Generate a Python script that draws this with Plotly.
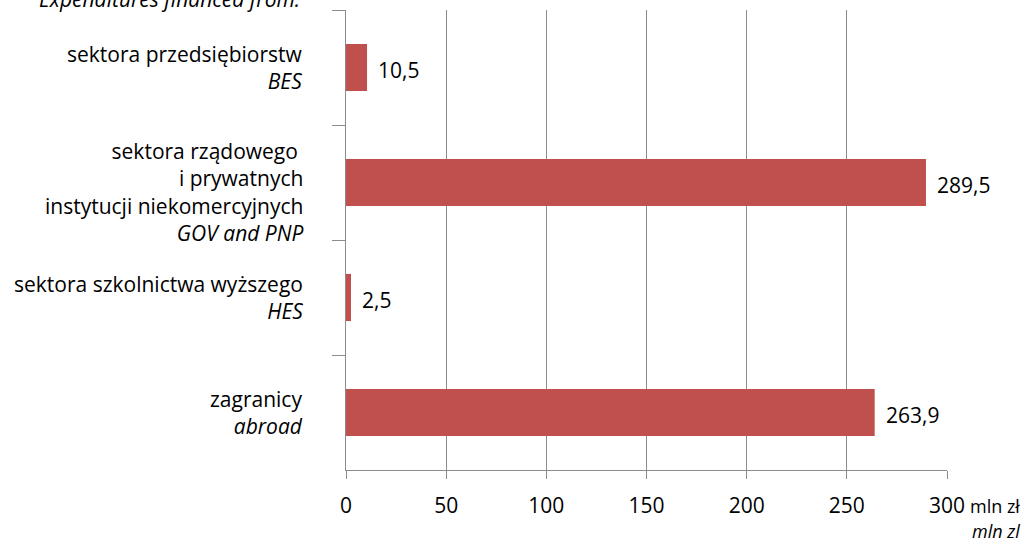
import plotly.graph_objects as go

# Sources of R&D expenditure financing (mln zł)
sources = ["BES", "GOV", "HES", "ABROAD"]
source_labels = [
    "sektora przedsiębiorstw<br><i>BES</i>",
    "sektora rządowego <br>i prywatnych<br>instytucji niekomercyjnych<br><i>GOV and PNP</i>",
    "sektora szkolnictwa wyższego<br><i>HES</i>",
    "zagranicy<br><i>abroad</i>",
]
values = [10.5, 289.5, 2.5, 263.9]
value_text = ["10,5", "289,5", "2,5", "263,9"]

x_ticks = [0, 50, 100, 150, 200, 250, 300]
x_tick_labels = ["0", "50", "100", "150", "200", "250", "300"]

FONT = "Open Sans"
SIZE = 21
UNIT_SIZE = 18
GRID = "#8c8c8c"
BAR = "#c0504d"
# vertical nudge of each category caption (px)
label_nudge = [0, -9, 0, 0]

fig = go.Figure()
fig.add_trace(go.Bar(
    x=values,
    y=sources,
    orientation="h",
    marker=dict(color=BAR, line=dict(width=0)),
    hoverinfo="x+y",
))

annotations = []
for s, v, t in zip(sources, values, value_text):
    annotations.append(dict(
        x=v, y=s, xref="x", yref="y", text=t, showarrow=False,
        xanchor="left", yanchor="middle", xshift=9, yshift=-2,
        font=dict(family=FONT, size=SIZE, color="#000000"),
    ))

# category captions to the left of the axis
for s, lab, dy in zip(sources, source_labels, label_nudge):
    annotations.append(dict(
        x=0, y=s, xref="paper", yref="y", text=lab, showarrow=False,
        xanchor="right", yanchor="middle", align="right",
        xshift=-41, yshift=dy,
        font=dict(family=FONT, size=SIZE, color="#000000"),
    ))

# unit next to the last tick label, and its English counterpart below
annotations.append(dict(
    x=1, y=0, xref="paper", yref="paper", text="mln zł", showarrow=False,
    xanchor="left", yanchor="middle", xshift=21, yshift=-36,
    font=dict(family=FONT, size=UNIT_SIZE, color="#000000"),
))
annotations.append(dict(
    x=1, y=0, xref="paper", yref="paper", text="<i>mln zl</i>", showarrow=False,
    xanchor="right", yanchor="middle", xshift=75, yshift=-61,
    font=dict(family=FONT, size=UNIT_SIZE, color="#000000"),
))
# heading, partly above the top edge
annotations.append(dict(
    x=0, y=1, xref="paper", yref="paper", text="<i>Expenditures financed from:</i>",
    showarrow=False, xanchor="right", yanchor="middle", xshift=-44, yshift=11,
    font=dict(family=FONT, size=SIZE, color="#000000"),
))

fig.update_layout(
    width=1031, height=544,
    margin=dict(l=346, r=84, t=10, b=74),
    paper_bgcolor="white", plot_bgcolor="white",
    showlegend=False,
    bargap=0.59,
    font=dict(family=FONT, size=SIZE, color="#000000"),
    annotations=annotations,
    xaxis=dict(
        range=[0, 300],
        tickvals=x_ticks, ticktext=x_tick_labels,
        showgrid=True, gridcolor=GRID, gridwidth=1,
        showline=True, linecolor=GRID, linewidth=1,
        ticks="outside", ticklen=8, tickcolor=GRID, tickwidth=1,
        ticklabelstandoff=9,
        zeroline=False,
        tickfont=dict(family=FONT, size=SIZE, color="#000000"),
    ),
    yaxis=dict(
        type="category",
        categoryorder="array", categoryarray=sources,
        range=[3.5, -0.5],
        tickson="boundaries",
        showticklabels=False,
        showgrid=False,
        showline=True, linecolor=GRID, linewidth=1,
        ticks="outside", ticklen=13, tickcolor=GRID, tickwidth=1,
    ),
)

fig.write_html("out.html")
